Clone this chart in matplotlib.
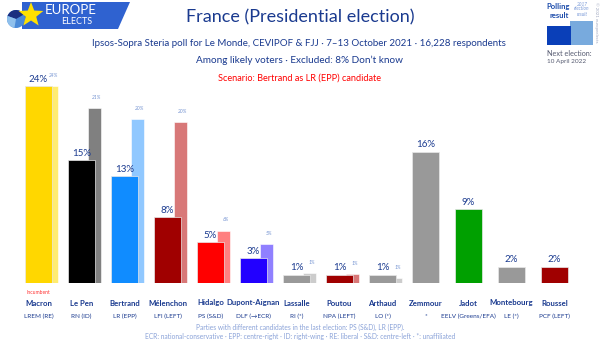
import numpy as np
import matplotlib.pyplot as plt
from matplotlib.patches import Polygon, Rectangle, Wedge

# poll data
candidates = ['Macron', 'Le Pen', 'Bertrand', 'Mélenchon', 'Hidalgo', 'Dupont-Aignan',
              'Lassalle', 'Poutou', 'Arthaud', 'Zemmour', 'Jadot', 'Montebourg', 'Roussel']
parties = ['LREM (RE)', 'RN (ID)', 'LR (EPP)', 'LFI (LEFT)', 'PS (S&D)', 'DLF (→ECR)',
           'RI (*)', 'NPA (LEFT)', 'LO (*)', '*', 'EELV (Greens/EFA)', 'LE (*)', 'PCF (LEFT)']
poll = [24, 15, 13, 8, 5, 3, 1, 1, 1, 16, 9, 2, 2]
prev_2017 = [24.0, 21.3, 20.0, 19.6, 6.4, 4.7, 1.2, 1.1, 0.6, None, None, None, None]
prev_labels = ['24%', '21%', '20%', '20%', '6%', '5%', '1%', '1%', '1%', '', '', '', '']

colors = ['#FFD700', '#000000', '#108CFF', '#A00000', '#FF0000', '#2200FF',
          '#999999', '#A00000', '#999999', '#999999', '#00A000', '#999999', '#A00000']
prev_colors = ['#FFEC70', '#808080', '#90C8FF', '#D87878', '#FF8080', '#9080FF',
               '#CCCCCC', '#D87878', '#CCCCCC', None, None, None, None]

W, H = 600, 341
navy = '#1a3a8f'
font = 'Lato'

fig = plt.figure(figsize=(W / 100, H / 100), dpi=100)
fig.patch.set_facecolor('white')


def px(x, y):
    return x / W, 1 - y / H


def ftext(x, y, s, **kw):
    kw.setdefault('family', font)
    fig.text(*px(x, y), s, **kw)


# bar area: category i sits at pixel 38.5 + 43 * i, baseline at y=283, 8.2 px per %
step = 43.0
x0 = 38.5
ax = fig.add_axes([0, (H - 283) / H, 1, 203 / H])
ax.set_xlim(-x0 / step, (W - x0) / step)
ax.set_ylim(0, 203 / 8.2)
ax.axis('off')

bw = 27 / step
pw = 13 / step
poff = 13 / step
xs = np.arange(len(candidates))

for i in xs:
    if prev_2017[i] is not None:
        ax.bar(i + poff, prev_2017[i], width=pw, color=prev_colors[i],
               edgecolor='white', linewidth=0.4, zorder=1)
        ax.text(i + poff + 0.05, prev_2017[i] + 1.0, prev_labels[i], ha='center', va='bottom',
                fontsize=3.5, style='italic', color='#7090d0', family=font)
    ax.bar(i, poll[i], width=bw, color=colors[i], edgecolor='#e8e8e8',
           linewidth=0.5, zorder=2)
    ax.text(i, poll[i] + 0.3, f'{poll[i]}%', ha='center', va='bottom',
            fontsize=7, color=navy, family=font)

# titles
ftext(300, 17, 'France (Presidential election)', ha='center', va='center',
      fontsize=13, color=navy)
ftext(299, 43, 'Ipsos-Sopra Steria poll for Le Monde, CEVIPOF & FJJ · 7–13 October 2021 · 16,228 respondents',
      ha='center', va='center', fontsize=7.0, color=navy)
ftext(300, 60, 'Among likely voters · Excluded: 8% Don’t know', ha='center', va='center',
      fontsize=7.2, color=navy)
ftext(300, 78, 'Scenario: Bertrand as LR (EPP) candidate', ha='center', va='center',
      fontsize=6.6, color='#ff0000')

# candidate names and parties
for i in xs:
    cx = x0 + step * i
    ftext(cx, 303, candidates[i], ha='center', va='center', fontsize=5.6,
          color=navy, weight='bold')
    ftext(cx, 316, parties[i], ha='center', va='center', fontsize=4.6, color=navy)
ftext(38, 292, 'Incumbent', ha='center', va='center', fontsize=3.6, color='#ff3030')

ftext(300, 327, 'Parties with different candidates in the last election: PS (S&D), LR (EPP).',
      ha='center', va='center', fontsize=4.8, color='#8aa2d8')
ftext(300, 337, 'ECR: national-conservative · EPP: centre-right · ID: right-wing · RE: liberal · S&D: centre-left · *: unaffiliated',
      ha='center', va='center', fontsize=4.8, color='#8aa2d8')

# logo
lax = fig.add_axes([0, 0, 1, 1], zorder=5)
lax.set_xlim(0, W)
lax.set_ylim(H, 0)
lax.axis('off')
lax.add_patch(Polygon([(22, 2), (130, 2), (118, 29), (22, 29)], closed=True,
                      color='#2f62d0', lw=0))
lax.add_patch(Wedge((16, 19), 9, 0, 360, color='#4a8ad8', lw=0))
lax.add_patch(Wedge((16, 19), 9, 200, 330, color='#1a2f80', lw=0))
lax.add_patch(Wedge((16, 19), 9, 100, 200, color='#8fc0ec', lw=0))
ang = np.pi / 2 + np.arange(10) * np.pi / 5
rad = np.where(np.arange(10) % 2 == 0, 13, 5.5)
star = np.column_stack([31 + rad * np.cos(ang), 15 - rad * np.sin(ang)])
lax.add_patch(Polygon(star, closed=True, color='#ffe000', lw=0))
lax.text(71, 10, 'EUROPE', ha='center', va='center', fontsize=9.5, color='white',
         family=font)
lax.text(77, 22, 'ELECTS', ha='center', va='center', fontsize=6.5, color='white',
         family=font)

# legend box
lax.add_patch(Rectangle((570, 21), 23, 24, color='#78aadd', lw=0))
lax.add_patch(Rectangle((547, 26), 24, 19, color='#0a3fb8', lw=0))
lax.text(558, 7, 'Polling', ha='center', va='center', fontsize=5.5, color='#1a4aaa',
         family=font, weight='bold')
lax.text(559, 16, 'result', ha='center', va='center', fontsize=5.5, color='#1a4aaa',
         family=font, weight='bold')
lax.text(582, 9, '2017\nelection\nresult', ha='center', va='center', fontsize=3.4,
         color='#7a9ad8', family=font, style='italic', linespacing=1.0)
lax.text(547, 53, 'Next election:', ha='left', va='center', fontsize=5.2,
         color='#555a70', family=font)
lax.text(547, 62, '10 April 2022', ha='left', va='center', fontsize=4.6,
         color='#555a70', family=font)
lax.text(596, 22, '© 2021 europeelects', ha='center', va='center', fontsize=3.2,
         color='#a0a8c0', family=font, rotation=270)

fig.savefig('out.png', dpi=100)
